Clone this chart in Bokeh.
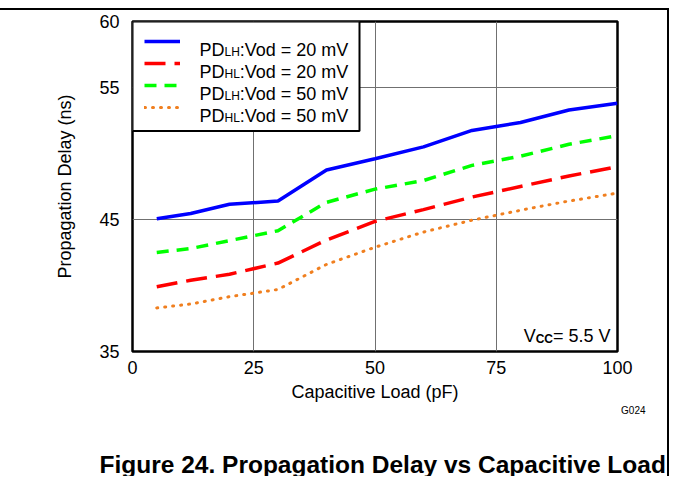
from bokeh.plotting import figure
from bokeh.models import Range1d, FixedTicker, Legend, LegendItem, Label, Title, BoxAnnotation
from bokeh.embed import file_html
from bokeh.resources import INLINE

# ---------------- data ----------------
load_lh20 = [5, 12, 20, 30, 40, 50, 60, 70, 75, 80, 90, 100]
pd_lh20 = [45.05, 45.45, 46.15, 46.4, 48.75, 49.6, 50.5, 51.75, 52.05, 52.35, 53.3, 53.8]
load = [5, 12, 20, 30, 40, 50, 60, 70, 80, 90, 100]
pd_hl20 = [39.9, 40.4, 40.85, 41.7, 43.45, 44.85, 45.75, 46.7, 47.5, 48.3, 49.0]
pd_lh50 = [42.5, 42.8, 43.4, 44.15, 46.3, 47.3, 47.95, 49.1, 49.8, 50.7, 51.35]
pd_hl50 = [38.3, 38.6, 39.15, 39.7, 41.6, 42.9, 44.05, 44.95, 45.7, 46.4, 47.0]
x_ticks = [0, 25, 50, 75, 100]
y_ticks = [35, 45, 55, 60]
x_grid = [25, 50, 75]
y_grid = [45, 55]

FONT = "Liberation Sans"

# canvas starts at page y = 10 (8px margin + 2px border line)
W, H = 669, 468
p = figure(width=W, height=H, output_backend="svg", toolbar_location=None,
           x_range=Range1d(0, 100), y_range=Range1d(35, 60),
           min_border_left=132, min_border_right=52, min_border_top=11,
           min_border_bottom=127)
p.styles = {"margin-top": "8px", "border-top": "2px solid black",
            "border-right": "2px solid black"}

p.outline_line_color = "black"
p.outline_line_width = 2.5
p.background_fill_color = "white"
p.border_fill_color = "white"

for ax in (p.xaxis[0], p.yaxis[0]):
    ax.axis_line_color = None
    ax.major_tick_line_color = None
    ax.minor_tick_line_color = None
    ax.major_label_text_font = FONT
    ax.major_label_text_font_size = "18px"
    ax.major_label_text_color = "black"
    ax.axis_label_text_font = FONT
    ax.axis_label_text_font_size = "18px"
    ax.axis_label_text_font_style = "normal"
    ax.axis_label_text_color = "black"

p.xaxis.ticker = FixedTicker(ticks=x_ticks)
p.yaxis.ticker = FixedTicker(ticks=y_ticks)
p.xaxis.axis_label = "Capacitive Load (pF)"
p.yaxis.axis_label = "Propagation Delay (ns)"
p.xaxis.major_label_standoff = 3
p.xaxis.axis_label_standoff = 5
p.yaxis.major_label_standoff = 7
p.yaxis.axis_label_standoff = 21

p.xgrid.ticker = FixedTicker(ticks=x_grid)
p.ygrid.ticker = FixedTicker(ticks=y_grid)
for g in (p.xgrid[0], p.ygrid[0]):
    g.grid_line_color = "#707070"
    g.grid_line_width = 1

r_lh20 = p.line(load_lh20, pd_lh20, line_color="#0000ff", line_width=3.5)
r_hl20 = p.line(load, pd_hl20, line_color="#ff0000", line_width=3.5, line_dash="21 9")
r_lh50 = p.line(load, pd_lh50, line_color="#00ff00", line_width=3.5, line_dash="12 8")
r_hl50 = p.line(load, pd_hl50, line_color="#f07f1f", line_width=3, line_dash="1 7",
                line_cap="round")

# annotation positions: page pixel -> data coords (frame: x 132..617, y 21..351)
def dx(px):
    return (px - 132) / 485 * 100

def dy(py):
    return 60 - (py - 21) / 330 * 25

# legend box (white, black border), then legend samples, then texts on top
p.add_layout(BoxAnnotation(left=0, right=dx(359), top=60, bottom=dy(130.5),
                           fill_color="white", fill_alpha=1,
                           line_color="black", line_width=2, line_alpha=1))

legend = Legend(items=[LegendItem(label=" ", renderers=[r]) for r in (r_lh20, r_hl20, r_lh50, r_hl50)],
                location="top_left", margin=0, padding=12, spacing=6,
                glyph_width=36, glyph_height=16, label_height=16, label_width=147,
                label_standoff=16, label_text_font_size="1px",
                border_line_alpha=0, background_fill_alpha=0)
p.add_layout(legend)

def lab(px, py, text, size="18px", style="normal", align="left"):
    p.add_layout(Label(x=dx(px), y=dy(py), text=text, text_font=FONT,
                       text_font_size=size, text_font_style=style,
                       text_align=align, text_baseline="alphabetic",
                       text_color="black", level="overlay"))

leg_labels = [("LH", "20"), ("HL", "20"), ("LH", "50"), ("HL", "50")]
for i, (sub, mv) in enumerate(leg_labels):
    base = 43 + 22 * i + 6.4
    lab(199, base, "PD")
    lab(224, base + 2.5, sub, size="12px")
    lab(239.3, base, ":Vod = %s mV" % mv)

# Vcc note
lab(523.2, 335, "V")
lab(535.2, 338, "CC", size="12px", style="bold")
lab(552.5, 335, "= 5.5 V")

# graph id (below the axis)
gid = Title(text="G024", align="right", offset=-28, standoff=0, vertical_align="top",
            text_font=FONT, text_font_size="10px", text_font_style="normal",
            text_color="black")
p.add_layout(gid, "below")

# blank spacer between graph id and caption
spacer = Title(text=" ", standoff=28, text_font=FONT, text_font_size="1px")
p.add_layout(spacer, "below")

# figure caption
caption = Title(text="Figure 24. Propagation Delay vs Capacitive Load", align="left",
                offset=-33, standoff=0, vertical_align="bottom", text_font=FONT,
                text_font_size="24.5px", text_font_style="bold", text_color="black")
p.add_layout(caption, "below")

open("out.html", "w").write(file_html(p, INLINE))
